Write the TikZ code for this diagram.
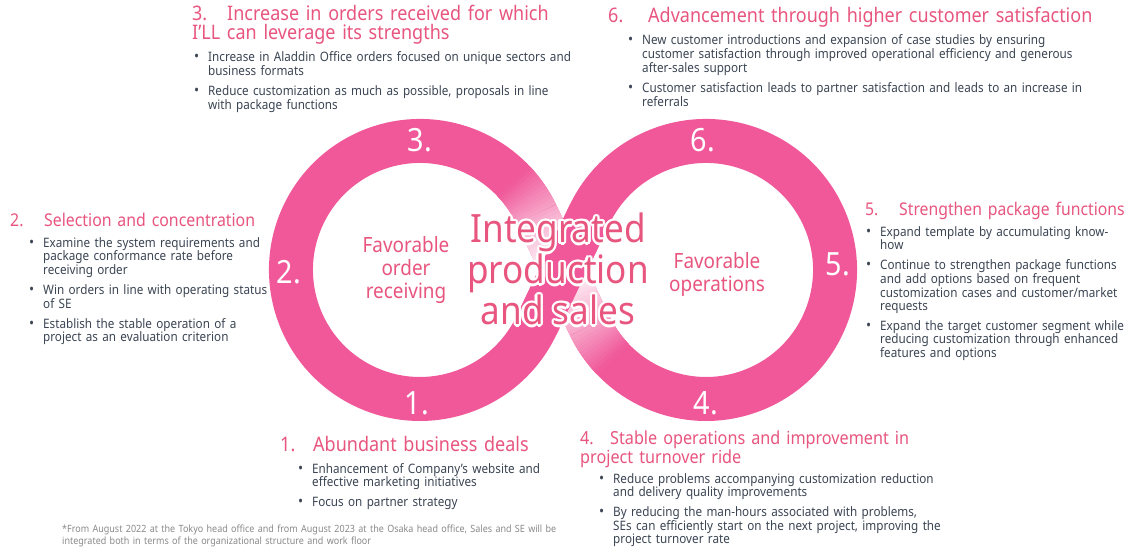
\documentclass[tikz,border=0pt]{standalone}
\usepackage{fontspec}
\setmainfont{Noto Sans}[FakeStretch=0.9]
\usetikzlibrary{calc}

\definecolor{ringpink}{HTML}{F0589A}
\definecolor{headpink}{HTML}{E8557F}
\definecolor{bodygray}{HTML}{3B4553}
\definecolor{notegray}{HTML}{8A8A8A}

\newcommand{\hnum}[2]{\makebox[#1][l]{#2}}
\newcommand{\bp}[1]{\makebox[14pt][l]{\fontsize{15}{13}\selectfont\textbullet}%
  \begin{tabular}[t]{@{}l@{}}#1\end{tabular}}
\newcommand{\bgap}{\par\vspace{5pt}}

\tikzset{
  band/.style={draw=ringpink, line width=44pt},
  head/.style={anchor=base west, inner sep=0pt, text width=#1, align=left,
    text=headpink, font=\fontsize{20}{19}\selectfont},
  blist/.style={anchor=base west, inner sep=0pt, text width=#1, align=left,
    text=bodygray, font=\fontsize{13}{13}\selectfont},
  ringnum/.style={text=white, inner sep=0pt, font=\fontsize{32}{32}\selectfont},
  inlabel/.style={text=headpink, align=center, inner sep=0pt,
    font=\fontsize{21}{23}\selectfont},
  bigtext/.style={align=center, inner sep=0pt, font=\fontsize{39}{41}\selectfont},
}

\begin{document}
\begin{tikzpicture}[x=1pt,y=1pt]

  \fill[white] (0,0) rectangle (1131,547);
  \useasboundingbox (0,0) rectangle (1131,547);

  % infinity ring
  \coordinate (C)  at (563,277);
  \coordinate (LC) at (420,277);
  \coordinate (RC) at (706,277);
  \coordinate (LL) at (536.3,221.3);
  \coordinate (UL) at (536.3,332.7);
  \coordinate (LR) at (589.7,221.3);
  \coordinate (UR) at (589.7,332.7);

  \draw[band] (C) -- (LL) arc[start angle=-25.6, end angle=-334.4, radius=129]
    -- (C) -- (LR) arc[start angle=205.6, end angle=514.4, radius=129] -- cycle;

  % faded strand behind the crossing
  \foreach \i in {0,...,11} {
    \pgfmathsetmacro{\p}{55+45*(\i+0.5)/12}
    \draw[line width=44pt, draw=ringpink!\p!white]
      ($(LC)+(25.6+1.5*\i:129)$) arc[start angle=25.6+1.5*\i, delta angle=1.8, radius=129];
    \draw[line width=44pt, draw=ringpink!\p!white]
      ($(RC)+(205.6+1.5*\i:129)$) arc[start angle=205.6+1.5*\i, delta angle=1.8, radius=129];
  }
  \foreach \i in {0,...,29} {
    \pgfmathsetmacro{\ta}{\i/30}
    \pgfmathsetmacro{\tb}{min((\i+1.2)/30,1)}
    \pgfmathsetmacro{\p}{5+50*abs(2*(\i+0.5)/30-1)^1.3}
    \draw[line width=44pt, draw=ringpink!\p!white] ($(UL)!\ta!(LR)$) -- ($(UL)!\tb!(LR)$);
  }
  \draw[band] (LL) -- (UR);

  % numbers on the ring
  \node[ringnum] (n1) at (417,144) {1.};
  \node[ringnum] (n2) at (289,275) {2.};
  \node[ringnum] (n3) at (420,407) {3.};
  \node[ringnum] (n4) at (706,144) {4.};
  \node[ringnum] (n5) at (838,283) {5.};
  \node[ringnum] (n6) at (703,407) {6.};

  \node[inlabel] (order) at (406,277) {Favorable\\order\\receiving};
  \node[inlabel] (oper)  at (717,272.5) {Favorable\\operations};

  \coordinate (mid) at (558,278);
  \foreach \a [count=\k] in {0,30,...,330} {
    \node[bigtext, text=white] (glow\k) at ($(mid)+(\a:2.4)$) {Integrated\\production\\and sales};
  }
  \node[bigtext, text=headpink] (core) at (mid) {Integrated\\production\\and sales};

  % texts around
  \node[head=420pt] (h3) at (192,526)
    {\hnum{35pt}{3.}Increase in orders received for which\\I’LL can leverage its strengths};
  \node[blist=420pt] (b3) at (194,485)
    {\bp{Increase in Aladdin Office orders focused on unique sectors and\\business formats}
     \bgap\bp{Reduce customization as much as possible, proposals in line\\with package functions}};

  \node[head=520pt] (h6) at (608,524)
    {\hnum{40pt}{6.}Advancement through higher customer satisfaction};
  \node[blist=500pt] (b6) at (628,502)
    {\bp{New customer introductions and expansion of case studies by ensuring\\customer satisfaction through improved operational efficiency and generous\\after-sales support}
     \bgap\bp{Customer satisfaction leads to partner satisfaction and leads to an increase in\\referrals}};

  \node[head=320pt, font=\fontsize{17.6}{19}\selectfont] (h2) at (10,321)
    {\hnum{34pt}{2.}Selection and concentration};
  \node[blist=300pt] (b2) at (29,300)
    {\bp{Examine the system requirements and\\package conformance rate before\\receiving order}
     \bgap\bp{Win orders in line with operating status\\of SE}
     \bgap\bp{Establish the stable operation of a\\project as an evaluation criterion}};

  \node[head=300pt, font=\fontsize{17.5}{19}\selectfont] (h5) at (865,331)
    {\hnum{34pt}{5.}Strengthen package functions};
  \node[blist=300pt] (b5) at (866,311)
    {\bp{Expand template by accumulating know-\\how}
     \bgap\bp{Continue to strengthen package functions\\and add options based on frequent\\customization cases and customer/market\\requests}
     \bgap\bp{Expand the target customer segment while\\reducing customization through enhanced\\features and options}};

  \node[head=320pt] (h1) at (280,96)
    {\hnum{33pt}{1.}Abundant business deals};
  \node[blist=300pt] (b1) at (298,74)
    {\bp{Enhancement of Company’s website and\\effective marketing initiatives}
     \bgap\bp{Focus on partner strategy}};

  \node[head=380pt, font=\fontsize{18}{17}\selectfont] (h4) at (580,103)
    {\hnum{30pt}{4.}Stable operations and improvement in\\project turnover ride};
  \node[blist=400pt] (b4) at (599,64)
    {\bp{Reduce problems accompanying customization reduction\\and delivery quality improvements}
     \bgap\bp{By reducing the man-hours associated with problems,\\SEs can efficiently start on the next project, improving the\\project turnover rate}};

  \node[anchor=base west, inner sep=0pt, text width=560pt, align=left, text=notegray,
    font=\fontsize{10}{12}\selectfont] (note) at (62,15)
    {*From August 2022 at the Tokyo head office and from August 2023 at the Osaka head office, Sales and SE will be\\integrated both in terms of the organizational structure and work floor};

\end{tikzpicture}
\end{document}
